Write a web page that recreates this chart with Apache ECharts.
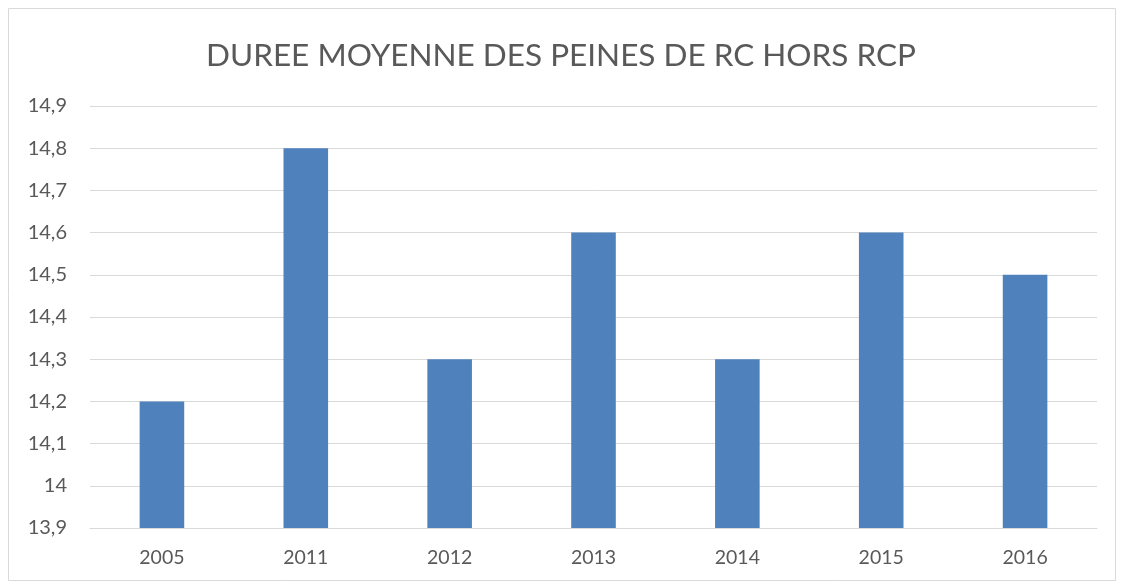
<!DOCTYPE html>
<html>
<head>
<meta charset="utf-8">
<script src="https://cdn.jsdelivr.net/npm/echarts@6/dist/echarts.min.js"></script>
<style>
  html, body { margin: 0; padding: 0; background: #fff; }
  #chart { width: 1122px; height: 585px; }
</style>
</head>
<body>
<div id="chart"></div>
<script>
    // values
    var years = ['2005', '2011', '2012', '2013', '2014', '2015', '2016'];
    var duree = [14.2, 14.8, 14.3, 14.6, 14.3, 14.6, 14.5];
    var titre = 'DUREE MOYENNE DES PEINES DE RC HORS RCP';

    var dom = document.getElementById('chart');
    var myChart = echarts.init(dom);
    var grey = '#595959';
    var font = 'Lato, "Open Sans", sans-serif';

    var option = {
        animation: false,
        title: {
            text: titre,
            left: 'center',
            top: 35,
            textStyle: { fontFamily: font, fontSize: 31.5, fontWeight: 'normal', color: grey }
        },
        grid: { left: 90, right: 25, top: 106, bottom: 57, containLabel: false },
        graphic: [{
            type: 'rect',
            shape: { x: 8.5, y: 8.5, width: 1107, height: 572 },
            style: { fill: null, stroke: '#d9d9d9', lineWidth: 1 },
            silent: true
        }],
        xAxis: {
            type: 'category',
            data: years,
            axisLine: { lineStyle: { color: '#d9d9d9', width: 1 } },
            axisTick: { show: false },
            axisLabel: { color: grey, fontFamily: font, fontSize: 19.5, margin: 20 }
        },
        yAxis: {
            type: 'value',
            min: 13.9,
            max: 14.9,
            interval: 0.1,
            axisLine: { show: false },
            axisTick: { show: false },
            splitLine: { lineStyle: { color: '#d9d9d9', width: 1 } },
            axisLabel: {
                color: grey, fontFamily: font, fontSize: 20, margin: 23,
                formatter: function (v) { return (Math.round(v * 10) / 10).toString().replace('.', ','); }
            }
        },
        series: [{
            type: 'bar',
            data: duree,
            barWidth: '31%',
            itemStyle: { color: '#4f81bd' }
        }]
    };
    myChart.setOption(option);
</script>
</body>
</html>
